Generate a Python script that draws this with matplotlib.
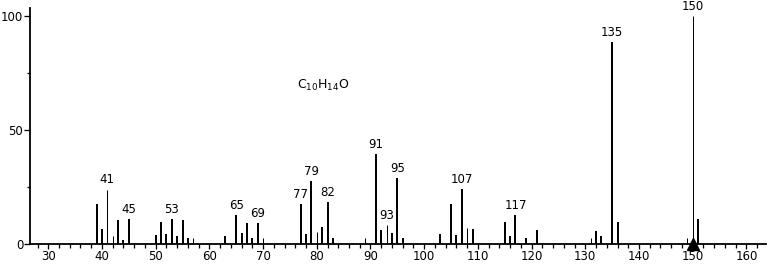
import matplotlib
matplotlib.use("Agg")
import matplotlib.pyplot as plt
from matplotlib.ticker import MultipleLocator

plt.rcParams['font.family'] = ['DejaVu Sans']
plt.rcParams['mathtext.fontset'] = 'dejavusans'

# ---- data (m/z, relative intensity) ----
mz = [39, 40, 41, 42, 43, 44, 45, 50, 51, 52, 53, 54, 55, 56, 57, 63, 65, 66,
      67, 68, 69, 70, 77, 78, 79, 80, 81, 82, 83, 89, 91, 92, 93, 94, 95, 96,
      103, 105, 106, 107, 108, 109, 115, 116, 117, 119, 121, 131, 132, 133,
      135, 136, 149, 150, 151]
intensity = [17.7, 6.6, 23.9, 3.7, 10.7, 1.6, 11.0, 4.0, 9.5, 4.5, 11.0, 3.7,
             10.7, 2.8, 2.8, 3.7, 12.7, 5.0, 9.3, 2.6, 9.3, 2.6, 17.4, 4.5,
             27.8, 5.4, 7.5, 18.6, 2.6, 2.6, 39.3, 6.3, 8.5, 4.8, 29.0, 2.6,
             4.5, 17.7, 4.1, 24.3, 7.0, 6.7, 9.5, 3.7, 12.7, 2.8, 6.0, 2.8,
             5.6, 3.7, 88.7, 9.5, 2.8, 100.0, 11.1]
labeled = [41, 45, 53, 65, 69, 77, 79, 82, 91, 93, 95, 107, 117, 135, 150]
molecular_ion = [150]
formula = r'C$_{10}$H$_{14}$O'
x_ticks = [30, 40, 50, 60, 70, 80, 90, 100, 110, 120, 130, 140, 150, 160]
y_ticks = [0, 50, 100]

# ---- style ----
thin_peaks = {41, 42, 57, 70, 80, 89, 93, 108, 131, 149, 150}
W, H, DPI = 769, 266, 100
px = 72.0 / DPI  # points per pixel

fig = plt.figure(figsize=(W / DPI, H / DPI), dpi=DPI)
ax = fig.add_axes([30 / W, (H - 244) / H, (766 - 30) / W, (244 - 8) / H])

for m, v in zip(mz, intensity):
    lw = 1.0 if m in thin_peaks else 2.0
    ax.vlines(m, 0, v, colors='black', linewidth=lw * px)

lookup = dict(zip(mz, intensity))
for m in labeled:
    ax.annotate(str(m), (m, lookup[m]), xytext=(0, 2.2), textcoords='offset points',
                ha='center', va='bottom', fontsize=8.5)

ax.plot(molecular_ion, [0] * len(molecular_ion), marker='^', color='black',
        markersize=8, linestyle='none', clip_on=False, zorder=5)

ax.text(76.3, 69.7, formula, fontsize=9, ha='left', va='center')

ax.set_xlim(26.6, 163.65)
ax.set_ylim(0, 103.5)
ax.spines['top'].set_visible(False)
ax.spines['right'].set_visible(False)
ax.spines['left'].set_linewidth(1.3)
ax.spines['bottom'].set_linewidth(1.3)

ax.set_xticks(x_ticks)
ax.set_xticklabels([str(t) for t in x_ticks])
ax.xaxis.set_minor_locator(MultipleLocator(2))
ax.set_yticks(y_ticks)
ax.set_yticklabels([str(t) for t in y_ticks])
ax.yaxis.set_minor_locator(MultipleLocator(25))

ax.tick_params(axis='x', which='major', direction='out', length=5 * px, width=1.3 * px,
               labelsize=8.5, pad=1.0)
ax.tick_params(axis='x', which='minor', direction='out', length=3.5 * px, width=1.3 * px)
ax.tick_params(axis='y', which='major', direction='out', length=6 * px, width=1.3 * px,
               labelsize=8.5, pad=0.5)
ax.tick_params(axis='y', which='minor', direction='out', length=3 * px, width=1.3 * px)

fig.savefig('out.png', dpi=DPI)
